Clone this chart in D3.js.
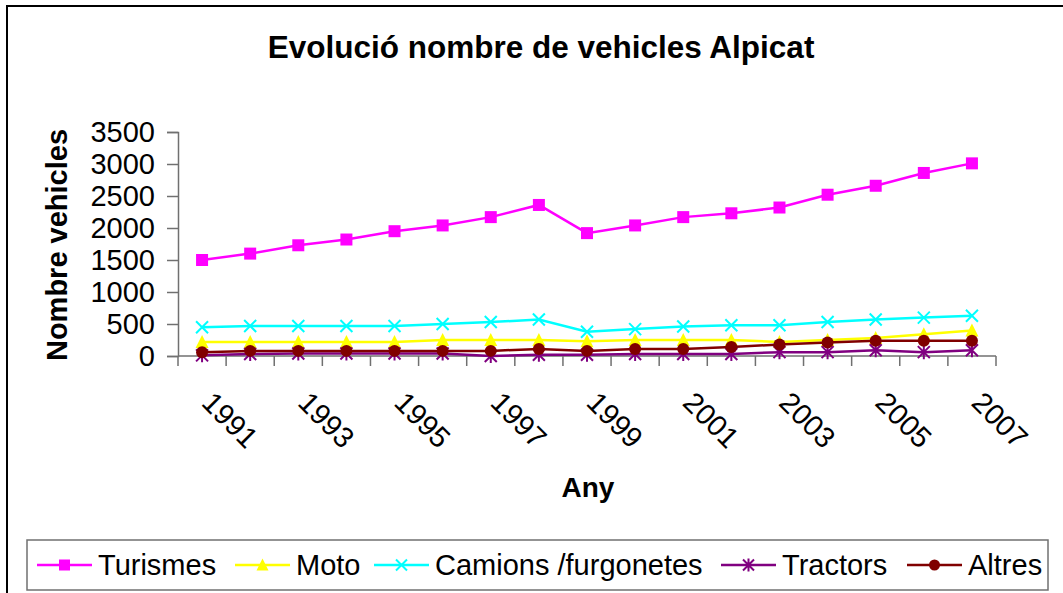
<!DOCTYPE html>
<html>
<head>
<meta charset="utf-8">
<script src="https://cdn.jsdelivr.net/npm/d3@7"></script>
<style>
  body { margin: 0; background: #fff; }
  svg { display: block; }
  text { font-family: "Liberation Sans", Arial, sans-serif; fill: #000; }
</style>
</head>
<body>
<svg id="chart" width="1063" height="593"></svg>
<script>
"use strict";

// data
const years = ["1991", "1992", "1993", "1994", "1995", "1996", "1997", "1998", "1999",
    "2000", "2001", "2002", "2003", "2004", "2005", "2006", "2007"];
const turismes = [1500, 1600, 1730, 1820, 1950, 2040, 2170, 2360, 1920, 2040, 2170, 2230, 2320, 2520, 2660, 2860, 3010];
const moto = [220, 220, 220, 220, 220, 250, 250, 250, 230, 250, 250, 250, 220, 250, 280, 340, 400];
const camions = [450, 470, 470, 470, 470, 500, 530, 570, 380, 420, 460, 480, 480, 530, 570, 600, 630];
const tractors = [10, 30, 40, 40, 40, 40, 0, 20, 20, 30, 30, 30, 60, 60, 90, 60, 90];
const altres = [60, 80, 80, 80, 80, 80, 80, 110, 80, 110, 110, 140, 180, 210, 240, 240, 240];
const yTicks = [0, 500, 1000, 1500, 2000, 2500, 3000, 3500];
const xLabels = ["1991", "1993", "1995", "1997", "1999", "2001", "2003", "2005", "2007"];

const series = [
    { name: "Turismes", values: turismes, color: "#ff00ff", marker: "square" },
    { name: "Moto", values: moto, color: "#ffff00", marker: "triangle" },
    { name: "Camions /furgonetes", values: camions, color: "#00ffff", marker: "x" },
    { name: "Tractors", values: tractors, color: "#800080", marker: "star" },
    { name: "Altres", values: altres, color: "#800000", marker: "circle" }
];

const svg = d3.select("#chart");

// outer chart border (right and bottom edges fall outside the window)
svg.append("rect")
    .attr("x", 7).attr("y", 6)
    .attr("width", 1200).attr("height", 800)
    .attr("fill", "none")
    .attr("stroke", "#000")
    .attr("stroke-width", 2);

const x = d3.scaleBand().domain(years).range([178, 996]).padding(0);
const y = d3.scaleLinear().domain([0, 3500]).range([356, 132]);
const cx = d => x(d) + x.bandwidth() / 2;

// title
svg.append("text")
    .attr("x", 541).attr("y", 58)
    .attr("text-anchor", "middle")
    .style("font-size", "31.5px")
    .style("font-weight", "bold")
    .text("Evolució nombre de vehicles Alpicat");

// y axis
const yAxis = svg.append("g")
    .attr("transform", "translate(178,0)")
    .call(d3.axisLeft(y).tickValues(yTicks).tickSize(11).tickPadding(12).tickFormat(d3.format("d")));
yAxis.select(".domain").attr("stroke", "#707070").attr("stroke-width", 1.5);
yAxis.selectAll(".tick line").attr("stroke", "#707070").attr("stroke-width", 1.5);
yAxis.selectAll(".tick text")
    .style("font-size", "29px")
    .style("font-family", "'Liberation Sans', Arial, sans-serif")
    .attr("fill", "#000");

// x axis: line, ticks between categories, rotated labels
const xAxis = svg.append("g");
xAxis.append("line")
    .attr("x1", 178).attr("x2", 996)
    .attr("y1", y(0)).attr("y2", y(0))
    .attr("stroke", "#707070").attr("stroke-width", 1.5);
xAxis.selectAll(".xtick")
    .data(years.map(d => x(d)).concat([x(years[years.length - 1]) + x.bandwidth()]))
    .join("line")
    .attr("class", "xtick")
    .attr("x1", d => d).attr("x2", d => d)
    .attr("y1", y(0)).attr("y2", y(0) + 10)
    .attr("stroke", "#707070").attr("stroke-width", 1.5);
xAxis.selectAll(".xlabel")
    .data(xLabels)
    .join("text")
    .attr("class", "xlabel")
    .attr("text-anchor", "middle")
    .attr("dominant-baseline", "central")
    .attr("transform", d => `translate(${cx(d) + 28},${420}) rotate(45)`)
    .style("font-size", "29px")
    .text(d => d);

// axis titles
svg.append("text")
    .attr("transform", "translate(67,245) rotate(-90)")
    .attr("text-anchor", "middle")
    .style("font-size", "29px")
    .style("font-weight", "bold")
    .text("Nombre vehicles");
svg.append("text")
    .attr("x", 588).attr("y", 497)
    .attr("text-anchor", "middle")
    .style("font-size", "28px")
    .style("font-weight", "bold")
    .text("Any");

// marker drawing
function drawMarker(g, type, color, size) {
    const s = size / 2;
    if (type === "square") {
        g.append("rect").attr("x", -s).attr("y", -s).attr("width", size).attr("height", size)
            .attr("fill", color);
    } else if (type === "triangle") {
        g.append("path").attr("d", `M0,${-s - 1}L${s + 0.5},${s}L${-s - 0.5},${s}Z`).attr("fill", color);
    } else if (type === "circle") {
        g.append("circle").attr("r", s).attr("fill", color);
    } else {
        let d = `M${-s},${-s}L${s},${s}M${-s},${s}L${s},${-s}`;
        if (type === "star") d += `M0,${-s - 1}L0,${s + 1}`;
        g.append("path").attr("d", d).attr("stroke", color).attr("stroke-width", 2).attr("fill", "none");
    }
}

const line = d3.line()
    .x((d, i) => cx(years[i]))
    .y(d => y(d));

const plot = svg.append("g");
series.forEach(s => {
    plot.append("path")
        .datum(s.values)
        .attr("d", line)
        .attr("fill", "none")
        .attr("stroke", s.color)
        .attr("stroke-width", 2.5);
    plot.selectAll(null)
        .data(s.values)
        .join("g")
        .attr("transform", (d, i) => `translate(${cx(years[i])},${y(d)})`)
        .each(function () { drawMarker(d3.select(this), s.marker, s.color, 12); });
});

// legend
svg.append("rect")
    .attr("x", 27).attr("y", 540)
    .attr("width", 1021).attr("height", 50)
    .attr("fill", "#fff")
    .attr("stroke", "#707070")
    .attr("stroke-width", 1.5);

const legendX = [37, 235, 374, 721, 907];
series.forEach((s, i) => {
    const lg = svg.append("g").attr("transform", `translate(${legendX[i]},565)`);
    lg.append("line").attr("x1", 0).attr("x2", 55).attr("y1", 0).attr("y2", 0)
        .attr("stroke", s.color).attr("stroke-width", 2.5);
    const m = lg.append("g").attr("transform", "translate(27.5,0)");
    drawMarker(m, s.marker, s.color, 11);
    lg.append("text")
        .attr("x", 61).attr("y", 10)
        .style("font-size", "29px")
        .text(s.name);
});
</script>
</body>
</html>
